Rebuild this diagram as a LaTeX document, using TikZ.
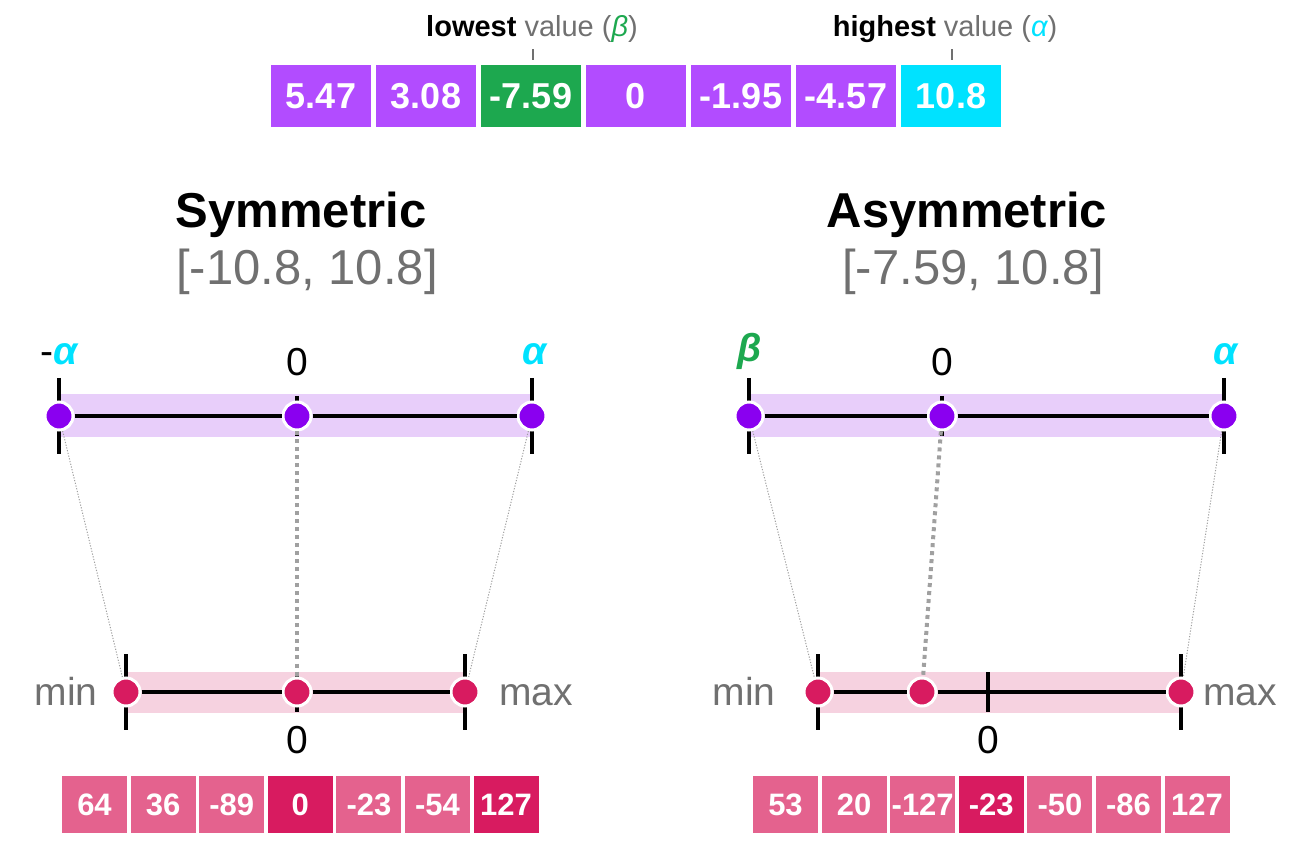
\documentclass[tikz,border=0pt]{standalone}
\usepackage{fontspec}
\setmainfont{Liberation Sans}
\usetikzlibrary{positioning}

\definecolor{cellpurple}{RGB}{178,76,255}
\definecolor{cellgreen}{RGB}{29,168,79}
\definecolor{cellcyan}{RGB}{0,226,255}
\definecolor{dotpurple}{RGB}{138,0,240}
\definecolor{bandpurple}{RGB}{232,206,250}
\definecolor{bandpink}{RGB}{246,210,224}
\definecolor{dotpink}{RGB}{216,27,96}
\definecolor{cellpink}{RGB}{228,98,142}
\definecolor{celldark}{RGB}{216,27,96}
\definecolor{greytext}{RGB}{112,112,112}
\definecolor{dotgrey}{RGB}{160,160,160}

\tikzset{
	cell/.style={minimum width=50pt, minimum height=31pt, inner sep=0pt, text=white, font=\fontsize{18}{18}\selectfont\bfseries},
	qcell/.style={minimum width=32.5pt, minimum height=28.5pt, inner sep=0pt, text=white, fill=cellpink, font=\fontsize{15.5}{15.5}\selectfont\bfseries},
	fdot/.style={circle, fill=dotpurple, draw=white, line width=1.5pt, minimum size=14pt, inner sep=0pt},
	qdot/.style={fdot, fill=dotpink},
	axisline/.style={line width=2pt},
	tickmark/.style={line width=2pt},
	pointer/.style={line width=0.8pt, greytext},
	thinmap/.style={dotgrey, line width=0.5pt, dash pattern=on 0.6pt off 0.8pt},
	zeromap/.style={dotgrey, line width=2pt, dash pattern=on 2pt off 2pt},
	heading/.style={anchor=base, font=\fontsize{24.5}{24.5}\selectfont\bfseries},
	rangetext/.style={anchor=base, text=greytext, font=\fontsize{24.5}{24.5}\selectfont},
	axislabel/.style={anchor=base, font=\fontsize{19.5}{19.5}\selectfont},
	endlabel/.style={anchor=base, text=greytext, font=\fontsize{19.5}{19.5}\selectfont},
	toplabel/.style={anchor=base, font=\fontsize{14.5}{14.5}\selectfont}
}

\begin{document}
\begin{tikzpicture}[x=0.5pt, y=-0.5pt]
	\useasboundingbox (0,0) rectangle (1303,866);

	% input values
	\foreach \v/\c [count=\i] in {5.47/cellpurple, 3.08/cellpurple, -7.59/cellgreen, 0/cellpurple, -1.95/cellpurple, -4.57/cellpurple, 10.8/cellcyan}
		\node[cell, fill=\c] (in-\i) at ({321+105*(\i-1)}, 96) {\v};
	\node[toplabel] (lowest) at (532,37) {\textbf{lowest} \textcolor{greytext}{value (}\textcolor{cellgreen}{\itshape β}\textcolor{greytext}{)}};
	\node[toplabel] (highest) at (945,37) {\textbf{highest} \textcolor{greytext}{value (}\textcolor{cellcyan}{\itshape α}\textcolor{greytext}{)}};
	\draw[pointer] ([xshift=1pt, yshift=2.5pt]in-3.north) -- ([xshift=1pt, yshift=8pt]in-3.north);
	\draw[pointer] ([xshift=0.5pt, yshift=2.5pt]in-7.north) -- ([xshift=0.5pt, yshift=8pt]in-7.north);

	% symmetric
	\node[heading] (sym-title) at (301,228) {Symmetric};
	\node[rangetext] (sym-range) at (307,285) {[-10.8, 10.8]};

	\coordinate (sym-neg-c) at (59,416);
	\coordinate (sym-zero-c) at (297,416);
	\coordinate (sym-pos-c) at (532,416);
	\coordinate (sym-min-c) at (126,692);
	\coordinate (sym-qzero-c) at (297,692);
	\coordinate (sym-max-c) at (465,692);

	\fill[bandpurple] ([yshift=11pt]sym-neg-c) rectangle ([yshift=-10.5pt]sym-pos-c);
	\fill[bandpink] ([yshift=10pt]sym-min-c) rectangle ([yshift=-10.5pt]sym-max-c);
	\foreach \p in {sym-neg-c, sym-pos-c, sym-min-c, sym-max-c}
		\draw[tickmark] ([yshift=19pt]\p) -- ([yshift=-19pt]\p);
	\foreach \p in {sym-zero-c, sym-qzero-c}
		\draw[tickmark] ([yshift=10pt]\p) -- ([yshift=-10pt]\p);

	\node[fdot] (sym-neg) at (sym-neg-c) {};
	\node[fdot] (sym-zero) at (sym-zero-c) {};
	\node[fdot] (sym-pos) at (sym-pos-c) {};
	\node[qdot] (sym-min) at (sym-min-c) {};
	\node[qdot] (sym-qzero) at (sym-qzero-c) {};
	\node[qdot] (sym-max) at (sym-max-c) {};
	\draw[axisline] (sym-neg) -- (sym-zero) -- (sym-pos);
	\draw[axisline] (sym-min) -- (sym-qzero) -- (sym-max);
	\draw[thinmap] (sym-neg) -- (sym-min);
	\draw[zeromap] (sym-zero) -- (sym-qzero);
	\draw[thinmap] (sym-pos) -- (sym-max);

	\node[axislabel] (sym-neg-l) at (59,365) {-\textcolor{cellcyan}{\bfseries\itshape α}};
	\node[axislabel] (sym-zero-l) at (297,376) {0};
	\node[axislabel] (sym-pos-l) at (535,365) {\textcolor{cellcyan}{\bfseries\itshape α}};
	\node[endlabel] (sym-min-l) at (66,705) {min};
	\node[endlabel] (sym-max-l) at (536,705) {max};
	\node[axislabel] (sym-qzero-l) at (297,753) {0};

	\foreach \v/\c [count=\i] in {64/cellpink, 36/cellpink, -89/cellpink, 0/celldark, -23/cellpink, -54/cellpink, 127/celldark}
		\node[qcell, fill=\c] (sym-q-\i) at ({94.5+68.6*(\i-1)}, 804.5) {\v};

	% asymmetric
	\node[heading] (asym-title) at (967,228) {Asymmetric};
	\node[rangetext] (asym-range) at (973,285) {[-7.59, 10.8]};

	\coordinate (asym-low-c) at (749,416);
	\coordinate (asym-zero-c) at (942,416);
	\coordinate (asym-high-c) at (1224,416);
	\coordinate (asym-min-c) at (818,692);
	\coordinate (asym-mid-c) at (922,692);
	\coordinate (asym-qzero-c) at (988,692);
	\coordinate (asym-max-c) at (1181,692);

	\fill[bandpurple] ([yshift=11pt]asym-low-c) rectangle ([yshift=-10.5pt]asym-high-c);
	\fill[bandpink] ([yshift=10pt]asym-min-c) rectangle ([yshift=-10.5pt]asym-max-c);
	\foreach \p in {asym-low-c, asym-high-c, asym-min-c, asym-max-c}
		\draw[tickmark] ([yshift=19pt]\p) -- ([yshift=-19pt]\p);
	\foreach \p in {asym-zero-c, asym-qzero-c}
		\draw[tickmark] ([yshift=10pt]\p) -- ([yshift=-10pt]\p);

	\node[fdot] (asym-low) at (asym-low-c) {};
	\node[fdot] (asym-zero) at (asym-zero-c) {};
	\node[fdot] (asym-high) at (asym-high-c) {};
	\node[qdot] (asym-min) at (asym-min-c) {};
	\node[qdot] (asym-mid) at (asym-mid-c) {};
	\node[qdot] (asym-max) at (asym-max-c) {};
	\draw[axisline] (asym-low) -- (asym-zero) -- (asym-high);
	\draw[axisline] (asym-min) -- (asym-mid) -- (asym-max);
	\draw[thinmap] (asym-low) -- (asym-min);
	\draw[zeromap] (asym-zero) -- (asym-mid);
	\draw[thinmap] (asym-high) -- (asym-max);

	\node[axislabel] (asym-low-l) at (750,362) {\textcolor{cellgreen}{\bfseries\itshape β}};
	\node[axislabel] (asym-zero-l) at (942,376) {0};
	\node[axislabel] (asym-high-l) at (1226,365) {\textcolor{cellcyan}{\bfseries\itshape α}};
	\node[endlabel] (asym-min-l) at (744,705) {min};
	\node[endlabel] (asym-max-l) at (1240,705) {max};
	\node[axislabel] (asym-qzero-l) at (988,753) {0};

	\foreach \v/\c [count=\i] in {53/cellpink, 20/cellpink, -127/cellpink, -23/celldark, -50/cellpink, -86/cellpink, 127/cellpink}
		\node[qcell, fill=\c] (asym-q-\i) at ({785.5+68.6*(\i-1)}, 804.5) {\v};
\end{tikzpicture}
\end{document}
